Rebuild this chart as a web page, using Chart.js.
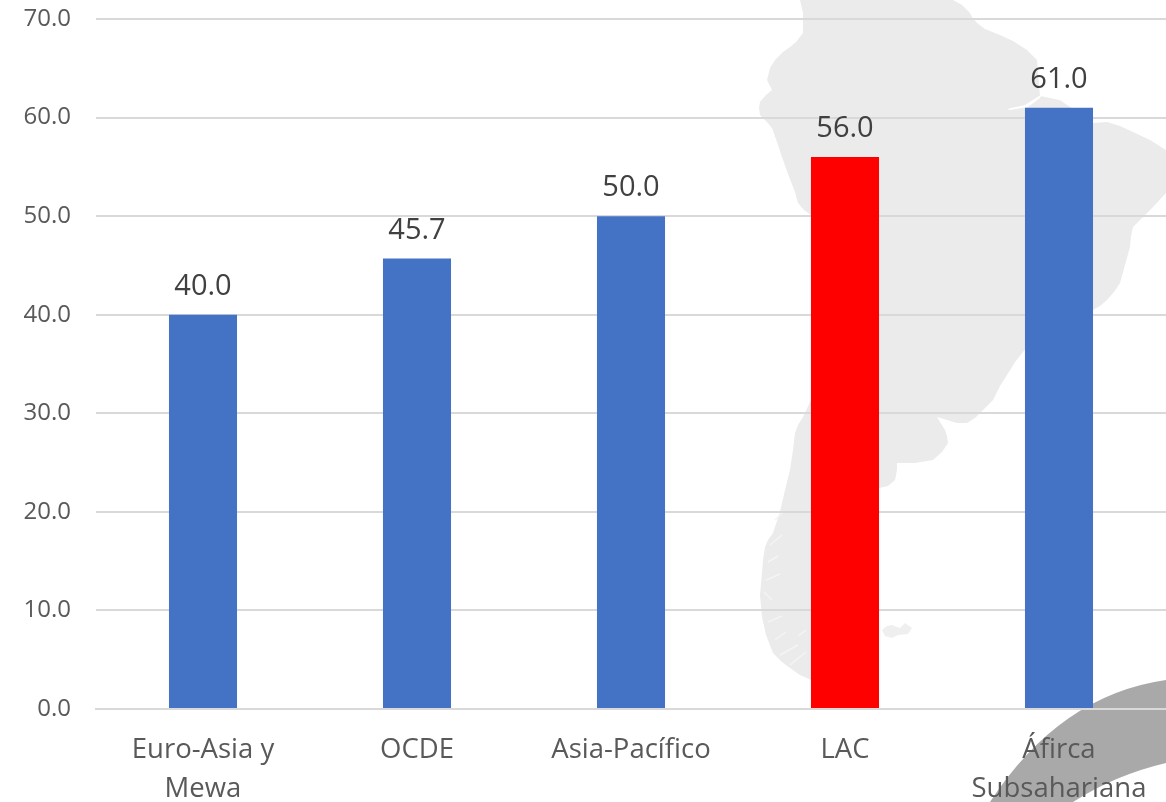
<!DOCTYPE html>
<html><head><meta charset="utf-8">
<style>html,body{margin:0;padding:0;background:#fff;overflow:hidden}canvas{display:block}</style>
<script src="https://cdn.jsdelivr.net/npm/chart.js@4"></script></head>
<body><canvas id="c" width="1166" height="802"></canvas>
<script>
const categories = [["Euro-Asia y","Mewa"],"OCDE","Asia-Pacífico","LAC",["Áfirca","Subsahariana"]];
const values = [40.0,45.7,50.0,56.0,61.0];
const barColors = ["#4472c4","#4472c4","#4472c4","#ff0000","#4472c4"];

const mapOutline = [[800,0],[803,13],[803,33],[796,42],[790,47],[783,52],[775,60],[770,68],[767,80],[770,86],[772,90],[766,95],[760,102],[759,108],[760,115],[766,121],[772,128],[777,142],[782,157],[788,174],[795,192],[798,203],[804,210],[811,215],[811,400],[803,417],[798,425],[795,433],[793,450],[790,470],[786,486],[782,503],[780,512],[773,533],[768,540],[765,547],[763,560],[762,573],[760,595],[762,617],[766,635],[773,653],[782,662],[790,668],[800,675],[811,680],[860,690],[879,488],[888,486],[895,480],[897,470],[897,463],[915,463],[933,460],[942,452],[948,443],[947,436],[945,430],[940,422],[937,417],[947,420],[957,423],[967,423],[975,418],[983,410],[993,400],[1000,386],[1007,375],[1015,362],[1027,347],[1060,325],[1093,310],[1100,306],[1107,300],[1114,292],[1120,283],[1125,265],[1130,247],[1131,236],[1133,227],[1142,218],[1153,207],[1166,193],[1166,150],[1150,140],[1133,132],[1120,126],[1107,122],[1093,123],[1060,100],[1040,96],[1037,60],[1027,50],[1013,41],[1000,35],[985,29],[977,23],[972,17],[970,13],[962,5],[953,0]];
const falklands = [[882,630],[887,626],[892,625],[897,627],[900,628],[905,623],[912,628],[908,634],[898,635],[892,638],[885,636]];
const slit = [[1007,109],[1025,105],[1036,98],[1042,94],[1040,98],[1028,107],[1010,110]];
const fjords = [[775,520,783,512],[770,545,782,535],[768,562,778,556],[766,580,780,574],[772,600,764,592],[768,622,782,616],[775,640,786,632],[780,655,798,645],[790,665,806,652],[798,636,806,630]];

function poly(ctx,pts,fill){ctx.beginPath();pts.forEach((p,i)=>i?ctx.lineTo(p[0],p[1]):ctx.moveTo(p[0],p[1]));ctx.closePath();ctx.fillStyle=fill;ctx.fill();}

const backdrop = {id:'backdrop',beforeDraw(chart){const ctx=chart.ctx;ctx.save();
  poly(ctx,mapOutline,'#ebebeb');poly(ctx,slit,'#ffffff');poly(ctx,falklands,'#efefef');
  ctx.strokeStyle='#f4f4f4';ctx.lineWidth=1.5;
  fjords.forEach(f=>{ctx.beginPath();ctx.moveTo(f[0],f[1]);ctx.lineTo(f[2],f[3]);ctx.stroke();});
  ctx.beginPath();ctx.moveTo(1166,680);ctx.quadraticCurveTo(1060,695,990,802);ctx.lineTo(1073,802);ctx.quadraticCurveTo(1115,775,1166,763);ctx.closePath();ctx.fillStyle='#a9a9a9';ctx.fill();
  ctx.restore();}};

const valueLabels = {id:'valueLabels',afterDatasetsDraw(chart){const ctx=chart.ctx;ctx.save();
  ctx.font='29px "Open Sans"';ctx.fillStyle='#404040';ctx.textAlign='center';ctx.textBaseline='alphabetic';
  chart.getDatasetMeta(0).data.forEach((b,i)=>ctx.fillText(values[i].toFixed(1),b.x,b.y-20));ctx.restore();}};

new Chart(document.getElementById('c'),{type:'bar',
 data:{labels:categories,datasets:[{data:values,backgroundColor:barColors,barPercentage:1,categoryPercentage:0.318}]},
 plugins:[backdrop,valueLabels],
 options:{responsive:false,animation:false,
  layout:{padding:{top:0,right:0,left:0,bottom:0}},
  plugins:{legend:{display:false},tooltip:{enabled:false}},
  scales:{
   x:{afterFit(s){s.height=93;s.paddingRight=0;s.paddingLeft=0},grid:{display:false,drawTicks:false},border:{color:'#d9d9d9',width:2},
      ticks:{autoSkip:false,maxRotation:0,minRotation:0,padding:22,color:'#595959',font:{family:'"Open Sans"',size:27.5,lineHeight:1.42}}},
   y:{min:0,max:70,afterFit(s){s.width=96;s.paddingTop=19},grid:{color:'#d9d9d9',lineWidth:2,drawTicks:false},border:{display:false},
      ticks:{stepSize:10,padding:25,color:'#595959',font:{family:'"Open Sans"',size:24},callback:v=>v.toFixed(1)}}
  }}});
</script></body></html>
